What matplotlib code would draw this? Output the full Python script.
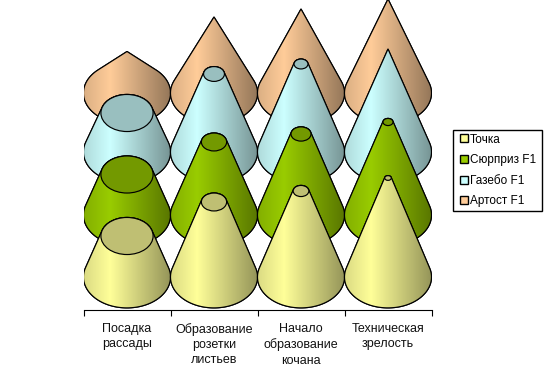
import numpy as np
import matplotlib
matplotlib.use("Agg")
import matplotlib.pyplot as plt
from matplotlib.colors import to_rgb
from matplotlib.legend_handler import HandlerPatch
from matplotlib.patches import Ellipse, Patch, Polygon, Rectangle

plt.rcParams["font.family"] = ["Liberation Sans", "DejaVu Sans"]

categories = ["Посадка\nрассады", "Образование\nрозетки\nлистьев",
              "Начало\nобразование\nкочана", "Техническая\nзрелость"]
series = ["Точка", "Сюрприз F1", "Газебо F1", "Артост F1"]
colors = ["#FFFF99", "#99CC00", "#CCFFFF", "#FFCC99"]

# base level of every series, height of the visible part, radius left at the top
levels = [32.5, 94.5, 157.5, 216.5]
tochka_height = [41, 75, 86, 99]
tochka_top = [0.60, 0.29, 0.18, 0.076]
surprise_height = [40.5, 73, 81, 93]
surprise_top = [0.60, 0.29, 0.23, 0.115]
gazebo_height = [39, 78, 88, 103]
gazebo_top = [0.60, 0.24, 0.16, 0.0]
artost_height = [41.5, 76, 84, 94]
artost_top = [0.0, 0.0, 0.0, 0.0]

heights = [tochka_height, surprise_height, gazebo_height, artost_height]
tops = [tochka_top, surprise_top, gazebo_top, artost_top]

WIDTH, HEIGHT = 550, 381
LEFT, RIGHT, BASE = 83.5, 431.5, 309.5
STEP = (RIGHT - LEFT) / 4
SQUASH = 0.71


def hull(pts):
    pts = sorted(set(map(tuple, np.round(pts, 4))))

    def half(seq):
        out = []
        for p in seq:
            while len(out) > 1 and ((out[-1][0] - out[-2][0]) * (p[1] - out[-2][1])
                                    - (out[-1][1] - out[-2][1]) * (p[0] - out[-2][0])) <= 0:
                out.pop()
            out.append(p)
        return out[:-1]

    return half(pts) + half(pts[::-1])


def ring(cx, cy, rx, ry):
    t = np.linspace(0, 2 * np.pi, 180, endpoint=False)
    return np.column_stack([cx + rx * np.cos(t), cy + ry * np.sin(t)])


def shade(color):
    # dark left edge, highlight at a third, darkest on the right
    pos = np.linspace(0, 1, 200)
    k = np.interp(pos, [0, 0.3, 1], [0.86, 1.0, 0.58])
    return (k[None, :, None] * np.array(to_rgb(color))).clip(0, 1)


def cone(ax, i, level, height, top, color):
    cx = i + 0.5
    rx = 0.5
    ry = rx * STEP * SQUASH
    top_y = level + height
    outline = hull(np.vstack([ring(cx, level, rx, ry),
                              ring(cx, top_y, rx * top, ry * top)]))
    body = Polygon(outline, closed=True, facecolor="none", edgecolor="black",
                   lw=0.85, zorder=3)
    ax.add_patch(body)
    im = ax.imshow(shade(color), extent=(i, i + 1, level - ry, top_y + ry),
                   aspect="auto", interpolation="bilinear", zorder=3)
    im.set_clip_path(body)
    body_edge = Polygon(outline, closed=True, facecolor="none", edgecolor="black",
                        lw=0.85, zorder=3)
    ax.add_patch(body_edge)
    if top > 0:
        dark = tuple(c * 0.75 for c in to_rgb(color))
        ax.add_patch(Ellipse((cx, top_y), 2 * rx * top, 2 * ry * top, facecolor=dark,
                             edgecolor="black", lw=0.85, zorder=3))


def legend_box(legend, orig_handle, xdescent, ydescent, width, height, fontsize):
    # small square, set in a little from the frame
    return Rectangle((2.5, (height - 5.76) / 2), 5.76, 5.76)


fig = plt.figure(figsize=(WIDTH / 100, HEIGHT / 100), dpi=100)
ax = fig.add_axes([LEFT / WIDTH, 1 - BASE / HEIGHT, (RIGHT - LEFT) / WIDTH, BASE / HEIGHT])
ax.patch.set_alpha(0)

# top series first, the lower ones are painted over it
for s in range(len(series) - 1, -1, -1):
    for i in range(len(categories)):
        cone(ax, i, levels[s], heights[s][i], tops[s][i], colors[s])

ax.set_xlim(0, 4)
ax.set_ylim(0, BASE)
for side in ["top", "left", "right"]:
    ax.spines[side].set_visible(False)
ax.spines["bottom"].set_linewidth(0.8)
ax.set_yticks([])
ax.set_xticks(range(5))
ax.set_xticklabels([])
ax.tick_params(axis="x", which="major", length=4.2, width=0.8)
ax.set_xticks(np.arange(4) + 0.5, minor=True)
ax.set_xticklabels(categories, minor=True, fontsize=9, linespacing=1.38, color="#111111")
ax.tick_params(axis="x", which="minor", length=0, pad=9.5)

handles = [Patch(facecolor=c, edgecolor="black", lw=1.0, label=n) for c, n in zip(colors, series)]
fig.legend(handles=handles, loc="lower left",
           bbox_to_anchor=(453 / WIDTH, 1 - 211 / HEIGHT, 89 / WIDTH, 81 / HEIGHT),
           mode="expand", borderaxespad=0, fontsize=8.5, frameon=True, fancybox=False,
           framealpha=1, edgecolor="black", handlelength=0.97, handleheight=0.7,
           handletextpad=0.17, labelspacing=0.73, borderpad=0.30,
           handler_map={Patch: HandlerPatch(patch_func=legend_box)})

fig.savefig("out.png", dpi=100)
